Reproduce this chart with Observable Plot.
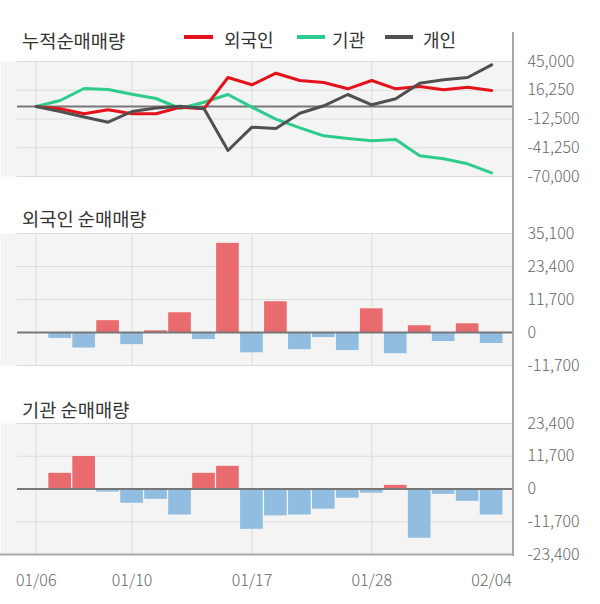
<!DOCTYPE html>
<html>
<head>
<meta charset="utf-8">
<script src="https://cdn.jsdelivr.net/npm/d3@7"></script>
<script src="https://cdn.jsdelivr.net/npm/@observablehq/plot@0.6"></script>
<style>
  body { margin: 0; background: #fff; }
  #wrap { position: relative; width: 600px; height: 604px; overflow: hidden; font-family: "Noto Sans CJK KR", "Noto Sans", sans-serif; }
  #wrap svg { position: absolute; left: 0; }
  .title { position: absolute; left: 22px; font-size: 18.7px; line-height: 22px; color: #333; white-space: nowrap; }
  .lg { position: absolute; font-size: 18px; line-height: 22px; color: #333; white-space: nowrap; }
  .sw { position: absolute; height: 4px; }
  #vline { position: absolute; left: 512px; top: 32px; width: 2px; height: 524px; background: #a8a8a8; }
</style>
</head>
<body>
<div id="wrap">
  <div class="title" style="top:29px">누적순매매량</div>
  <div class="sw" style="left:184px;top:34.5px;width:29px;background:#e5121b"></div>
  <div class="lg" style="left:224px;top:27.5px">외국인</div>
  <div class="sw" style="left:297px;top:34.5px;width:28px;background:#2ecc8c"></div>
  <div class="lg" style="left:332px;top:27.5px">기관</div>
  <div class="sw" style="left:385px;top:34.5px;width:28px;background:#505050"></div>
  <div class="lg" style="left:423px;top:27.5px">개인</div>
  <div class="title" style="top:206.5px">외국인 순매매량</div>
  <div class="title" style="top:398px">기관 순매매량</div>
</div>
<script>
// ---- data ----
const dates = ["01/06","01/07","01/08","01/09","01/10","01/13","01/14","01/15","01/16","01/17",
               "01/20","01/21","01/22","01/23","01/28","01/29","01/30","01/31","02/03","02/04"];
// cumulative net buying (panel 1)
const foreignCum = [0, -2300, -7300, -3300, -7300, -7300, -700, -2300, 29000, 21700,
                    33300, 26000, 24000, 17700, 26000, 17700, 20000, 16700, 19300, 16000];
const instCum    = [0, 6000, 18000, 17000, 12300, 8000, -2000, 4300, 12000, -700,
                    -12700, -21300, -29300, -32000, -34300, -33000, -49300, -52300, -57300, -66300];
const indivCum   = [0, -5000, -10500, -15700, -5000, -1500, 300, -2000, -44000, -20700,
                    -22000, -6700, 700, 12000, 1700, 7700, 23300, 26700, 29000, 41700];
// daily net buying (panels 2, 3), from 01/07 on
const barDates = dates.slice(1);
const foreignDaily = [-2100, -5500, 4200, -4300, 600, 7000, -2500, 31600, -7200,
                      10900, -6100, -1800, -6400, 8400, -7500, 2400, -3200, 3100, -3900];
const instDaily    = [5600, 11600, -1100, -5100, -3700, -9300, 5600, 8100, -14400,
                      -9600, -9300, -7200, -3300, -1500, 1300, -17600, -1900, -4400, -9300];
// ticks
const tickDates = ["01/06","01/10","01/17","01/28","02/04"];
const gridDates = ["01/06","01/10","01/17","01/28"];
const ticks1 = [45000, 16250, -12500, -41250, -70000];
const ticks2 = [35100, 23400, 11700, 0, -11700];
const ticks3 = [23400, 11700, 0, -11700, -23400];

// ---- helpers ----
const fmt = d => d.toLocaleString("en-US");
const RED = "#e5121b", GREEN = "#2ecc8c", DARK = "#505050";
const BAR_POS = "#ea6b6e", BAR_NEG = "#90bde0";
const GRID = "#dcdcdc", ZERO = "#777777";

const xBase = {type: "band", domain: dates, range: [24.37, 502.44], paddingInner: 0.055, paddingOuter: 0, align: 0.5, round: false};
const style = {fontFamily: '"Noto Sans CJK KR", "Noto Sans", sans-serif', fontSize: "16px", fontWeight: 300, color: "#666", background: "transparent", overflow: "visible"};
const yAxis = {axis: "right", tickSize: 0, tickPadding: 14, tickFormat: fmt, label: null};

const rows = (vals, ds) => vals.map((v, i) => ({date: ds[i], value: v}));

const wrap = document.getElementById("wrap");

// Panel 1
const p1 = Plot.plot({
  width: 600, height: 195, marginTop: 61, marginBottom: 19, marginLeft: 0, marginRight: 87,
  style,
  x: {...xBase, axis: null},
  y: {...yAxis, domain: [-70000, 45000], ticks: ticks1},
  marks: [
    Plot.frame({fill: "#f4f4f4", stroke: null}),
    Plot.ruleX(gridDates, {stroke: GRID}),
    Plot.ruleY(ticks1, {stroke: GRID, insetLeft: 17}),
    Plot.ruleY([0], {stroke: ZERO, strokeWidth: 2, insetLeft: 17}),
    Plot.line(rows(instCum, dates), {x: "date", y: "value", stroke: GREEN, strokeWidth: 3}),
    Plot.line(rows(foreignCum, dates), {x: "date", y: "value", stroke: RED, strokeWidth: 3}),
    Plot.line(rows(indivCum, dates), {x: "date", y: "value", stroke: DARK, strokeWidth: 3})
  ]
});
p1.style.top = "0px";
wrap.appendChild(p1);

function barPanel(vals, domain, ticks, opts) {
  const data = rows(vals, barDates);
  return Plot.plot({
    width: 600, marginLeft: 0, marginRight: 87,
    ...opts.size,
    style,
    x: opts.x,
    y: {...yAxis, domain, ticks},
    marks: [
      Plot.frame({fill: "#f4f4f4", stroke: null}),
      Plot.ruleX(gridDates, {stroke: GRID}),
      Plot.ruleY(ticks, {stroke: GRID, insetLeft: 17}),
      Plot.barY(data, {filter: d => d.value >= 0, x: "date", y: "value", fill: BAR_POS}),
      Plot.barY(data, {filter: d => d.value < 0, x: "date", y: "value", fill: BAR_NEG}),
      Plot.ruleY([0], {stroke: ZERO, strokeWidth: 2, insetLeft: 17}),
      ...(opts.extra || [])
    ]
  });
}

// Panel 2
const p2 = barPanel(foreignDaily, [-11700, 35100], ticks2, {
  size: {height: 190, marginTop: 38, marginBottom: 20},
  x: {...xBase, axis: null}
});
p2.style.top = "195px";
wrap.appendChild(p2);

// Panel 3
const p3 = barPanel(instDaily, [-23400, 23400], ticks3, {
  size: {height: 219, marginTop: 38, marginBottom: 50},
  x: {...xBase, ticks: tickDates, tickSize: 0, tickPadding: 20, label: null},
  extra: [Plot.ruleY([-23400], {stroke: "#aaaaaa", strokeWidth: 2})]
});
p3.style.top = "385px";
wrap.appendChild(p3);

const vline = document.createElement("div");
vline.id = "vline";
wrap.appendChild(vline);
</script>
</body>
</html>
